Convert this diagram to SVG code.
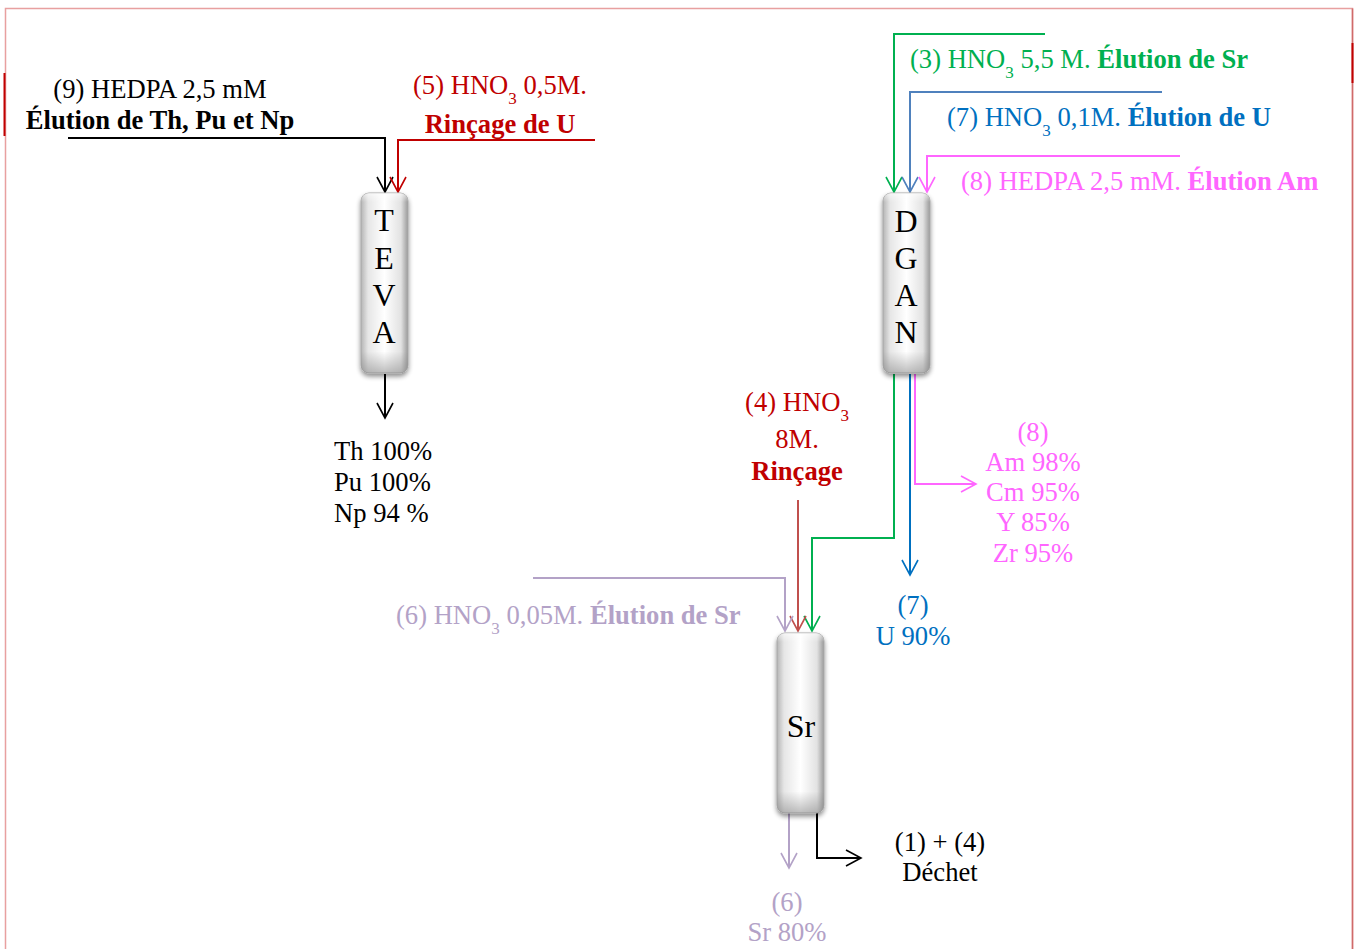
<svg xmlns="http://www.w3.org/2000/svg" width="1354" height="949" viewBox="0 0 1354 949">
<style>
text{font-family:"Liberation Serif","Times New Roman",serif;font-size:26.6px}
.b{font-weight:bold}
.s{font-size:17px}
.col{font-size:32px;text-anchor:middle}
.m{text-anchor:middle}
.ln{fill:none;stroke-width:2}
</style>
<defs>
<linearGradient id="gh" x1="0" y1="0" x2="1" y2="0">
<stop offset="0" stop-color="#b5b5b5"/>
<stop offset="0.15" stop-color="#e6e6e6"/>
<stop offset="0.5" stop-color="#ffffff"/>
<stop offset="0.85" stop-color="#e2e2e2"/>
<stop offset="1" stop-color="#9a9a9a"/>
</linearGradient>
<linearGradient id="gv" x1="0" y1="0" x2="0" y2="1">
<stop offset="0" stop-color="#ffffff" stop-opacity="0.6"/>
<stop offset="0.05" stop-color="#ffffff" stop-opacity="0"/>
<stop offset="0.88" stop-color="#888" stop-opacity="0"/>
<stop offset="1" stop-color="#888" stop-opacity="0.55"/>
</linearGradient>
<filter id="sh" x="-30%" y="-10%" width="160%" height="125%">
<feGaussianBlur in="SourceAlpha" stdDeviation="2.5"/>
<feOffset dy="3" result="o"/>
<feComponentTransfer><feFuncA type="linear" slope="0.45"/></feComponentTransfer>
<feMerge><feMergeNode/><feMergeNode in="SourceGraphic"/></feMerge>
</filter>
<marker id="aK" markerUnits="userSpaceOnUse" orient="auto" refX="0" refY="0" overflow="visible"><path d="M-15,-8 L0,0 L-15,8" fill="none" stroke="#000" stroke-width="1.6"/></marker>
<marker id="aR" markerUnits="userSpaceOnUse" orient="auto" refX="0" refY="0" overflow="visible"><path d="M-15,-8 L0,0 L-15,8" fill="none" stroke="#C00000" stroke-width="1.6"/></marker>
<marker id="aR2" markerUnits="userSpaceOnUse" orient="auto" refX="0" refY="0" overflow="visible"><path d="M-15,-8 L0,0 L-15,8" fill="none" stroke="#C0504D" stroke-width="1.6"/></marker>
<marker id="aG" markerUnits="userSpaceOnUse" orient="auto" refX="0" refY="0" overflow="visible"><path d="M-15,-8 L0,0 L-15,8" fill="none" stroke="#00B050" stroke-width="1.6"/></marker>
<marker id="aB" markerUnits="userSpaceOnUse" orient="auto" refX="0" refY="0" overflow="visible"><path d="M-15,-8 L0,0 L-15,8" fill="none" stroke="#4F81BD" stroke-width="1.6"/></marker>
<marker id="aB2" markerUnits="userSpaceOnUse" orient="auto" refX="0" refY="0" overflow="visible"><path d="M-15,-8 L0,0 L-15,8" fill="none" stroke="#0070C0" stroke-width="1.6"/></marker>
<marker id="aP" markerUnits="userSpaceOnUse" orient="auto" refX="0" refY="0" overflow="visible"><path d="M-15,-8 L0,0 L-15,8" fill="none" stroke="#FF66FF" stroke-width="1.6"/></marker>
<marker id="aL" markerUnits="userSpaceOnUse" orient="auto" refX="0" refY="0" overflow="visible"><path d="M-15,-8 L0,0 L-15,8" fill="none" stroke="#B3A2C7" stroke-width="1.6"/></marker>
</defs>
<rect width="1354" height="949" fill="#ffffff"/>
<g id="frame">
<path d="M5.5,949 V8.5 H1352.5 V949" fill="none" stroke="#E8A0A0" stroke-width="1.5"/>
<path d="M1352.5,8.5 V949" fill="none" stroke="#D06A6A" stroke-width="1.5"/>
<path d="M4.5,73 V136" stroke="#C00000" stroke-width="2"/>
<path d="M1352.5,43 V83" stroke="#C00000" stroke-width="2"/>
</g>
<g id="connectors">
<path class="ln" d="M68,138 H385 V192" stroke="#000" stroke-width="2.5" marker-end="url(#aK)"/>
<path class="ln" d="M595,140 H398 V192" stroke="#C00000" marker-end="url(#aR)"/>
<path class="ln" d="M1045,34 H894 V192" stroke="#00B050" marker-end="url(#aG)"/>
<path class="ln" d="M1162,92 H910 V192" stroke="#4F81BD" marker-end="url(#aB)"/>
<path class="ln" d="M1180,156 H927 V192" stroke="#FF66FF" marker-end="url(#aP)"/>
<path class="ln" d="M385,374 V418" stroke="#000" marker-end="url(#aK)"/>
<path class="ln" d="M894,374 V538 H812 V631" stroke="#00B050" marker-end="url(#aG)"/>
<path class="ln" d="M910,374 V575" stroke="#0070C0" marker-end="url(#aB2)"/>
<path class="ln" d="M915,374 V484 H976" stroke="#FF66FF" stroke-width="2.5" marker-end="url(#aP)"/>
<path class="ln" d="M798,500 V631" stroke="#C0504D" marker-end="url(#aR2)"/>
<path class="ln" d="M533,578 H785 V631" stroke="#B3A2C7" marker-end="url(#aL)"/>
<path class="ln" d="M789,813 V868" stroke="#B3A2C7" marker-end="url(#aL)"/>
<path class="ln" d="M817,813 V858 H861" stroke="#000" stroke-width="2.5" marker-end="url(#aK)"/>
</g>
<g id="teva">
<rect x="361" y="193" width="47" height="180" rx="8" fill="url(#gh)" stroke="#a8a8a8" stroke-width="1" filter="url(#sh)"/>
<rect x="361" y="193" width="47" height="180" rx="8" fill="url(#gv)"/>
<text class="col" x="384" y="231">T</text>
<text class="col" x="384" y="269">E</text>
<text class="col" x="384" y="306">V</text>
<text class="col" x="384" y="343">A</text>
</g>
<g id="dgan">
<rect x="883" y="193" width="47" height="180" rx="8" fill="url(#gh)" stroke="#a8a8a8" stroke-width="1" filter="url(#sh)"/>
<rect x="883" y="193" width="47" height="180" rx="8" fill="url(#gv)"/>
<text class="col" x="906" y="232">D</text>
<text class="col" x="906" y="269">G</text>
<text class="col" x="906" y="306">A</text>
<text class="col" x="906" y="343">N</text>
</g>
<g id="sr">
<rect x="777" y="633" width="47" height="180" rx="8" fill="url(#gh)" stroke="#a8a8a8" stroke-width="1" filter="url(#sh)"/>
<rect x="777" y="633" width="47" height="180" rx="8" fill="url(#gv)"/>
<text class="col" x="801" y="737">Sr</text>
</g>
<g id="label9">
<text class="m" x="160" y="98">(9) HEDPA 2,5 mM</text>
<text class="m b" x="160" y="129">Élution de Th, Pu et Np</text>
</g>
<g id="label5" fill="#C00000">
<text class="m" x="500" y="94">(5) HNO<tspan class="s" dy="10">3</tspan><tspan dy="-10"> 0,5M.</tspan></text>
<text class="m b" x="500" y="133">Rinçage de U</text>
</g>
<g id="label3" fill="#00B050">
<text x="910" y="68">(3) HNO<tspan class="s" dy="10">3</tspan><tspan dy="-10"> 5,5 M. </tspan><tspan class="b">Élution de Sr</tspan></text>
</g>
<g id="label7" fill="#0070C0">
<text x="947" y="126">(7) HNO<tspan class="s" dy="10">3</tspan><tspan dy="-10"> 0,1M. </tspan><tspan class="b">Élution de U</tspan></text>
</g>
<g id="label8" fill="#FF66FF">
<text x="961" y="190">(8) HEDPA 2,5 mM. <tspan class="b">Élution Am</tspan></text>
</g>
<g id="teva-out">
<text x="334" y="460">Th 100%</text>
<text x="334" y="491">Pu 100%</text>
<text x="334" y="522">Np 94 %</text>
</g>
<g id="label4" fill="#C00000">
<text class="m" x="797" y="411">(4) HNO<tspan class="s" dy="10">3</tspan></text>
<text class="m" x="797" y="448">8M.</text>
<text class="m b" x="797" y="480">Rinçage</text>
</g>
<g id="out8" fill="#FF66FF">
<text class="m" x="1033" y="441">(8)</text>
<text class="m" x="1033" y="471">Am 98%</text>
<text class="m" x="1033" y="501">Cm 95%</text>
<text class="m" x="1033" y="531">Y 85%</text>
<text class="m" x="1033" y="562">Zr 95%</text>
</g>
<g id="out7" fill="#0070C0">
<text class="m" x="913" y="614">(7)</text>
<text class="m" x="913" y="645">U 90%</text>
</g>
<g id="label6" fill="#B3A2C7">
<text x="396" y="624">(6) HNO<tspan class="s" dy="10">3</tspan><tspan dy="-10"> 0,05M. </tspan><tspan class="b">Élution de Sr</tspan></text>
</g>
<g id="waste">
<text class="m" x="940" y="851">(1) + (4)</text>
<text class="m" x="940" y="881">Déchet</text>
</g>
<g id="out6" fill="#B3A2C7">
<text class="m" x="787" y="911">(6)</text>
<text class="m" x="787" y="941">Sr 80%</text>
</g>
</svg>
